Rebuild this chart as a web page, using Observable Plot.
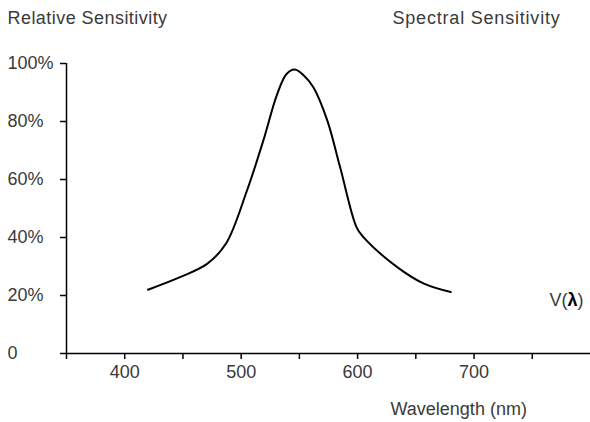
<!DOCTYPE html>
<html>
<head>
<meta charset="utf-8">
<script src="https://cdn.jsdelivr.net/npm/d3@7"></script>
<script src="https://cdn.jsdelivr.net/npm/@observablehq/plot@0.6"></script>
<style>
  html, body { margin: 0; padding: 0; background: #fff; }
  #chart svg { display: block; }
</style>
</head>
<body>
<div id="chart"></div>
<script>
// Data
const wavelengths = [420, 448, 471, 487, 505, 519, 531, 539, 546, 554, 562, 574, 585, 599, 605, 634, 657, 680];
const sensitivity = [22, 26.4, 31, 37.9, 56.2, 73.4, 89.5, 96.4, 97.9, 95.8, 91.8, 80.3, 64.2, 43.6, 40.1, 29.8, 24.1, 21.2];
const xTicks = [350, 400, 450, 500, 550, 600, 650, 700, 750];
const xTickLabels = [400, 500, 600, 700];
const yTicks = [0, 20, 40, 60, 80, 100];
const yTickLabels = ["0", "20%", "40%", "60%", "80%", "100%"];
const yAxisTitle = "Relative Sensitivity";
const chartTitle = "Spectral Sensitivity";
const xAxisTitle = "Wavelength (nm)";
const seriesLabel = "V(λ)";

const data = wavelengths.map((w, i) => ({w, v: sensitivity[i]}));
const textColor = "#3a3a3a";

const chart = Plot.plot({
  width: 590,
  height: 422,
  marginLeft: 66,
  marginRight: 0,
  marginTop: 63,
  marginBottom: 69,
  style: {fontFamily: "'Liberation Sans', Arial, sans-serif", fontSize: "18px", background: "#fff"},
  x: {domain: [350, 800]},
  y: {domain: [0, 100]},
  marks: [
    // y tick marks
    Plot.axisY({
      ticks: yTicks, tickSize: 6, tickFormat: () => "",
      stroke: "black", strokeWidth: 1.5, label: null
    }),
    // y tick labels, left-aligned
    Plot.axisY({
      ticks: yTicks, tickSize: 0, tickPadding: 9,
      tickFormat: d => yTickLabels[yTicks.indexOf(d)],
      textAnchor: "start", dx: -50, fill: textColor, label: null
    }),
    Plot.axisX({
      ticks: xTicks, tickSize: 6, tickPadding: 6,
      tickFormat: d => xTickLabels.includes(d) ? String(d) : "",
      stroke: "black", strokeWidth: 1.5, fill: textColor, label: null
    }),
    Plot.ruleY([0], {stroke: "black", strokeWidth: 1.5}),
    Plot.ruleX([350], {y1: 0, y2: 100, stroke: "black", strokeWidth: 1.5}),
    Plot.line(data, {x: "w", y: "v", curve: "catmull-rom", stroke: "black", strokeWidth: 2}),
    Plot.text([yAxisTitle], {frameAnchor: "top-left", dx: -59, dy: -45, textAnchor: "start", lineAnchor: "middle", fill: textColor}),
    Plot.text([chartTitle], {frameAnchor: "top-left", dx: 326, dy: -45, textAnchor: "start", lineAnchor: "middle", fill: textColor}),
    Plot.text([xAxisTitle], {frameAnchor: "bottom-left", dx: 324, dy: 56, textAnchor: "start", lineAnchor: "middle", fill: textColor}),
    Plot.text([seriesLabel], {frameAnchor: "bottom-left", dx: 483, dy: -53, textAnchor: "start", lineAnchor: "middle", fill: textColor})
  ]
});

chart.querySelectorAll("text").forEach(t => {
  if (t.textContent === seriesLabel) {
    t.innerHTML = 'V(<tspan font-weight="bold" fill="black">λ</tspan>)';
  }
  if (t.textContent === yAxisTitle) t.setAttribute("letter-spacing", "0.45");
  if (t.textContent === chartTitle) t.setAttribute("letter-spacing", "0.8");
});

document.getElementById("chart").appendChild(chart);
</script>
</body>
</html>
